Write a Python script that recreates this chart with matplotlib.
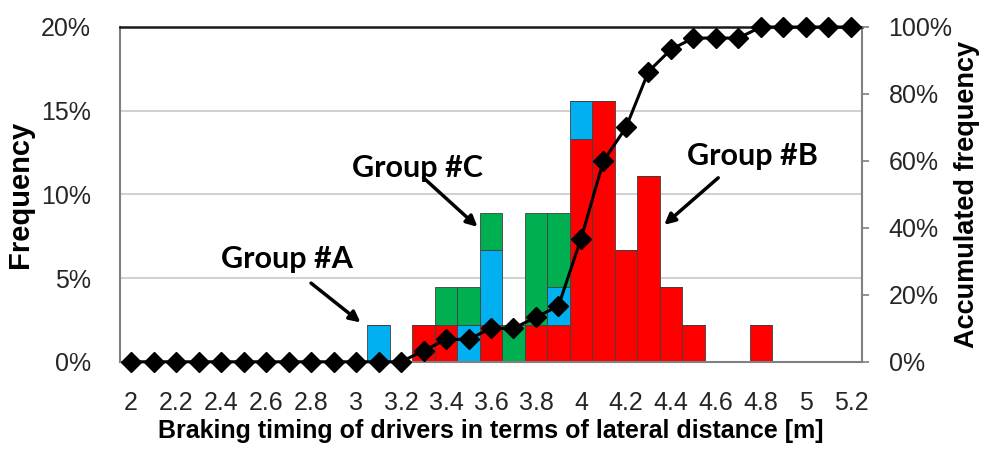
import numpy as np
import matplotlib.pyplot as plt
from matplotlib.ticker import FuncFormatter, MultipleLocator

# lateral distance bins (m)
distance = [2.0, 2.1, 2.2, 2.3, 2.4, 2.5, 2.6, 2.7, 2.8, 2.9, 3.0, 3.1, 3.2,
            3.3, 3.4, 3.5, 3.6, 3.7, 3.8, 3.9, 4.0, 4.1, 4.2, 4.3, 4.4,
            4.5, 4.6, 4.7, 4.8, 4.9, 5.0, 5.1, 5.2]
n_drivers = 45

# number of drivers per bin, by group
group_b = [0, 0, 0, 0, 0, 0, 0, 0, 0, 0, 0, 0, 0,
           1, 1, 0, 1, 0, 1, 1, 6, 7, 3, 5, 2, 1, 0, 0, 1, 0, 0, 0, 0]   # red
group_a = [0, 0, 0, 0, 0, 0, 0, 0, 0, 0, 0, 1, 0,
           0, 0, 1, 2, 0, 0, 1, 1, 0, 0, 0, 0, 0, 0, 0, 0, 0, 0, 0, 0]   # blue
group_c = [0, 0, 0, 0, 0, 0, 0, 0, 0, 0, 0, 0, 0,
           0, 1, 1, 1, 1, 3, 2, 0, 0, 0, 0, 0, 0, 0, 0, 0, 0, 0, 0, 0]   # green

# accumulated frequency (%)
accumulated = [0, 0, 0, 0, 0, 0, 0, 0, 0, 0, 0, 0, 0,
               3.3, 6.7, 6.7, 10.0, 10.0, 13.3, 16.7, 36.7, 60.0, 70.0,
               86.7, 93.3, 96.7, 96.7, 96.7, 100, 100, 100, 100, 100]

x_ticks = [2.0, 2.2, 2.4, 2.6, 2.8, 3.0, 3.2, 3.4, 3.6, 3.8, 4.0, 4.2, 4.4, 4.6, 4.8, 5.0, 5.2]

RED, BLUE, GREEN = '#FF0000', '#00B0F0', '#00B050'
sans = ['Liberation Sans', 'DejaVu Sans']

x = np.array(distance)
red = np.array(group_b) / n_drivers * 100
blue = np.array(group_a) / n_drivers * 100
green = np.array(group_c) / n_drivers * 100

fig = plt.figure(figsize=(9.82, 4.5), dpi=100)
ax = fig.add_axes([0.122, 0.196, 0.756, 0.744])

ax.yaxis.grid(True, color='#C8C8C8', lw=1.2)
ax.set_axisbelow(True)

w = 0.1
ax.bar(x, red, width=w, color=RED, edgecolor='#404040', lw=0.6)
ax.bar(x, blue, width=w, bottom=red, color=BLUE, edgecolor='#404040', lw=0.6)
ax.bar(x, green, width=w, bottom=red + blue, color=GREEN, edgecolor='#404040', lw=0.6)

ax.set_xlim(1.95, 5.25)
ax.set_ylim(0, 20)
ax.yaxis.set_major_locator(MultipleLocator(5))
ax.yaxis.set_major_formatter(FuncFormatter(lambda v, p: f'{v:.0f}%'))
ax.set_xticks(x_ticks)
ax.set_xticklabels([f'{t:g}' for t in x_ticks])
ax.tick_params(axis='y', length=0, pad=21)
ax.tick_params(axis='x', length=0, pad=21)
for lab in ax.get_xticklabels() + ax.get_yticklabels():
    lab.set_family(sans)
    lab.set_fontsize(18)
    lab.set_color('#262626')

for side in ['left', 'bottom', 'right']:
    ax.spines[side].set_color('#808080')
    ax.spines[side].set_linewidth(1.5)
ax.spines['top'].set_color('#1a1a1a')
ax.spines['top'].set_linewidth(1.8)

ax.set_ylabel('Frequency', fontsize=21, fontweight='bold', family=sans, labelpad=5)
ax.set_xlabel('Braking timing of drivers in terms of lateral distance [m]',
              fontsize=18, fontweight='bold', family=sans, labelpad=3)

# accumulated frequency on secondary axis
ax2 = ax.twinx()
ax2.plot(x, accumulated, color='black', lw=2.2, marker='D', ms=10,
         markerfacecolor='black', markeredgecolor='black', clip_on=False, zorder=5)
ax2.set_ylim(0, 100)
ax2.yaxis.set_major_locator(MultipleLocator(20))
ax2.yaxis.set_major_formatter(FuncFormatter(lambda v, p: f'{v:.0f}%'))
ax2.tick_params(axis='y', length=5, color='#808080', width=1.2, pad=14)
for lab in ax2.get_yticklabels():
    lab.set_family(sans)
    lab.set_fontsize(18)
    lab.set_color('#262626')
for side in ax2.spines:
    ax2.spines[side].set_visible(False)
ax2.set_ylabel('Accumulated frequency', fontsize=19.5, fontweight='bold', family=sans, labelpad=1)

# group annotations
arrow = dict(arrowstyle='-|>', color='black', lw=2.5, mutation_scale=16, shrinkA=0, shrinkB=0)
lbl = dict(fontsize=22, fontweight='bold', family='Lato', ha='center', va='baseline')
ax.annotate('', xy=(3.02, 2.35), xytext=(2.80, 4.70), arrowprops=arrow)
ax.text(2.693, 5.61, 'Group #A', **lbl)
ax.annotate('', xy=(3.54, 8.06), xytext=(3.30, 10.99), arrowprops=arrow)
ax.text(3.271, 11.04, 'Group #C', **lbl)
ax.annotate('', xy=(4.37, 8.18), xytext=(4.61, 10.99), arrowprops=arrow)
ax.text(4.764, 11.76, 'Group #B', **lbl)

fig.savefig('out.png', dpi=100)
